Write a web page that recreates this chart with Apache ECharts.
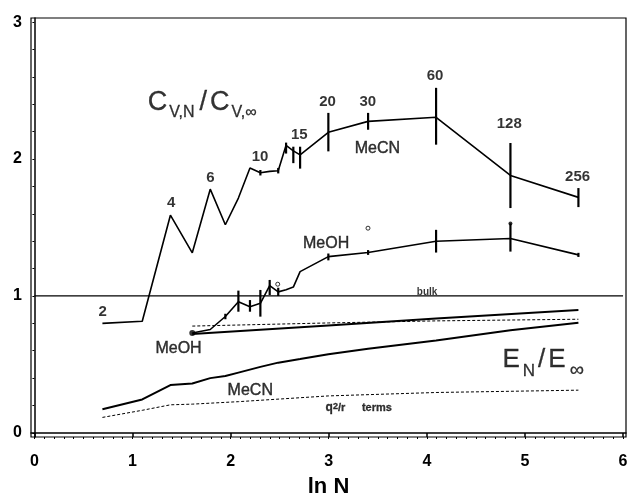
<!DOCTYPE html>
<html>
<head>
<meta charset="utf-8">
<script src="https://cdn.jsdelivr.net/npm/echarts@6/dist/echarts.min.js"></script>
<style>html,body{margin:0;background:#fff}#chart{width:631px;height:499px}</style>
</head>
<body>
<div id="chart"></div>
<script>
// ln N values of the cluster sizes
var lnN_MeCN = [0.693, 1.099, 1.386, 1.609, 1.792, 1.946, 2.079, 2.197, 2.303, 2.398, 2.485, 2.565, 2.639, 2.708, 2.996, 3.401, 4.094, 4.852, 5.545]
var cv_MeCN  = [0.80, 0.815, 1.59, 1.315, 1.78, 1.52, 1.715, 1.935, 1.90, 1.91, 1.915, 2.10, 2.06, 2.03, 2.195, 2.275, 2.305, 1.88, 1.72]
var lnN_MeOH = [1.609, 1.792, 1.946, 2.079, 2.197, 2.303, 2.398, 2.485, 2.565, 2.639, 2.708, 2.996, 3.401, 4.094, 4.852, 5.545]
var cv_MeOH  = [0.73, 0.755, 0.85, 0.958, 0.922, 0.946, 1.075, 1.03, 1.045, 1.065, 1.178, 1.287, 1.317, 1.40, 1.42, 1.30]

// error bars [lnN, low, high]
var err_MeCN = [[2.303, 1.88, 1.92], [2.485, 1.895, 1.935], [2.565, 2.04, 2.12], [2.639, 1.97, 2.09], [2.708, 1.93, 2.09],
    [2.996, 2.056, 2.337], [3.401, 2.214, 2.337], [4.094, 2.105, 2.52], [4.852, 1.642, 2.117], [5.545, 1.649, 1.788]]
var err_MeOH = [[1.946, 0.83, 0.87], [2.079, 0.885, 1.039], [2.197, 0.885, 0.97], [2.303, 0.849, 1.044], [2.398, 1.007, 1.117],
    [2.485, 1.0, 1.06], [2.996, 1.26, 1.31], [3.401, 1.30, 1.335], [4.094, 1.317, 1.483], [4.852, 1.324, 1.53], [5.545, 1.285, 1.315]]

// E_N / E_inf curves
var eMeOH      = [[1.609, 0.722], [2.996, 0.785], [4.094, 0.835], [5.545, 0.898]]
var eMeOH_q2r  = [[1.609, 0.78], [2.996, 0.803], [4.094, 0.818], [5.545, 0.83]]
var eMeCN      = [[0.693, 0.173], [1.099, 0.244], [1.386, 0.349], [1.609, 0.361], [1.792, 0.40], [1.946, 0.415], [2.079, 0.44],
    [2.303, 0.482], [2.485, 0.513], [2.708, 0.539], [2.996, 0.575], [3.401, 0.615], [4.094, 0.675], [4.852, 0.75], [5.545, 0.805]]
var eMeCN_q2r  = [[0.693, 0.113], [1.099, 0.165], [1.386, 0.205], [1.609, 0.21], [2.079, 0.228], [2.996, 0.27], [4.094, 0.295], [5.545, 0.312]]
var bulk = [[0, 1], [6, 1]]

var filledDots = [[1.609, 0.73, 6], [4.852, 1.53, 4]]
var openDots = [[2.48, 1.086], [3.40, 1.495]]

// annotations [x, y, text]
var sizeLabels = [[0.695, 0.881, '2'], [1.395, 1.678, '4'], [1.795, 1.861, '6'], [2.30, 2.015, '10'], [2.70, 2.178, '15'],
    [2.987, 2.421, '20'], [3.398, 2.421, '30'], [4.083, 2.604, '60'], [4.84, 2.258, '128'], [5.537, 1.873, '256']]
var solventLabels = [[3.496, 2.073, 'MeCN'], [2.973, 1.38, 'MeOH'], [1.469, 0.617, 'MeOH'], [2.2, 0.312, 'MeCN']]

var xTicks = [0, 1, 2, 3, 4, 5, 6]
var yTicks = [0, 1, 2, 3]
var xMinor = [], yMinor = []
for (var i = 0; i <= 60; i++) xMinor.push(i / 10)
for (var j = 0; j <= 15; j++) yMinor.push(j / 5)

var FONT = '"Liberation Sans", Arial, sans-serif'

function lineSeries(data, width, dashed) {
    return {
        type: 'line', data: data, symbol: 'none', silent: true, animation: false,
        lineStyle: { color: '#000', width: width, type: dashed ? [3, 2] : 'solid' }
    }
}
function errSeries(data) {
    return {
        type: 'custom', data: data, animation: false, silent: true,
        renderItem: function (params, api) {
            var a = api.coord([api.value(0), api.value(1)])
            var b = api.coord([api.value(0), api.value(2)])
            return { type: 'line', shape: { x1: a[0], y1: a[1], x2: b[0], y2: b[1] }, style: { stroke: '#000', lineWidth: 2.2 } }
        }
    }
}
function textSeries(data, style) {
    return {
        type: 'scatter', symbolSize: 1, itemStyle: { color: 'rgba(0,0,0,0)' }, animation: false, silent: true,
        data: data.map(function (d) { return [d[0], d[1], d[2]] }),
        label: Object.assign({ show: true, position: 'inside', color: '#000', fontFamily: FONT,
            formatter: function (p) { return p.data[2] } }, style)
    }
}
function rs(size, extra) {
    return Object.assign({ fontSize: size, color: '#000', fontFamily: FONT, textBorderColor: '#000', textBorderWidth: 0.3 }, extra || {})
}

var myEcharts = echarts.init(document.getElementById('chart'))
var option = {
    backgroundColor: '#fff',
    animation: false,
    grid: { left: 31, right: 5, top: 18, bottom: 62, show: true, borderColor: '#000', borderWidth: 1.2,
        containLabel: false, outerBoundsMode: 'none' },
    xAxis: [{
        type: 'value', min: -0.035, max: 6.03,
        name: 'ln N', nameLocation: 'middle', nameGap: 39,
        nameTextStyle: { fontSize: 22, fontWeight: 'bold', color: '#000', fontFamily: FONT },
        axisLine: { lineStyle: { color: '#000', width: 1.5 } },
        axisTick: { customValues: xTicks, length: 4, lineStyle: { color: '#000', width: 1.5 } },
        axisLabel: { customValues: xTicks, margin: 17, fontSize: 16, fontWeight: 'bold', color: '#000', fontFamily: FONT },
        splitLine: { show: false }
    }, {
        type: 'value', min: -0.035, max: 6.03, position: 'bottom',
        axisLine: { show: false },
        axisTick: { customValues: xMinor, length: 2, lineStyle: { color: '#000', width: 1 } },
        axisLabel: { show: false }, splitLine: { show: false }
    }],
    yAxis: [{
        type: 'value', min: -0.03, max: 3.03,
        axisLine: { lineStyle: { color: '#000', width: 1.5 } },
        axisTick: { customValues: yMinor, length: 2, lineStyle: { color: '#000', width: 1 } },
        axisLabel: { customValues: yTicks, margin: 9, padding: [3, 0, 0, 0], fontSize: 16, fontWeight: 'bold', color: '#000', fontFamily: FONT },
        splitLine: { show: false }
    }],
    series: [
        lineSeries(bulk, 1.2, false),
        lineSeries(lnN_MeCN.map(function (x, i) { return [x, cv_MeCN[i]] }), 1.6, false),
        lineSeries(lnN_MeOH.map(function (x, i) { return [x, cv_MeOH[i]] }), 1.6, false),
        lineSeries(eMeOH, 2, false),
        lineSeries(eMeOH_q2r, 1, true),
        lineSeries(eMeCN, 2, false),
        lineSeries(eMeCN_q2r, 1, true),
        errSeries(err_MeCN),
        errSeries(err_MeOH),
        {
            type: 'scatter', animation: false, silent: true, data: filledDots,
            symbolSize: function (d) { return d[2] }, itemStyle: { color: '#000' }
        },
        {
            type: 'scatter', animation: false, silent: true, data: openDots, symbolSize: 4,
            itemStyle: { color: '#fff', borderColor: '#000', borderWidth: 1 }
        },
        textSeries(sizeLabels, { fontSize: 15, fontWeight: 'bold' }),
        textSeries(solventLabels, { fontSize: 16, textBorderColor: '#000', textBorderWidth: 0.4 }),
        textSeries([[4.002, 1.029, 'bulk']], { fontSize: 10, fontWeight: 'bold' }),
        textSeries([[2.963, 0.181, '{q|q}{s|2}{t|/r}     {t|terms}']], {
            position: 'right', distance: 0,
            rich: {
                q: rs(12, { fontWeight: 'bold' }),
                s: rs(9, { fontWeight: 'bold', verticalAlign: 'top', lineHeight: 10 }),
                t: rs(11, { fontWeight: 'bold' })
            }
        }),
        textSeries([[1.151, 2.41, '{b|C}{s|V,N}{sl|/}{b|C}{s|V,∞}']], {
            position: 'right', distance: 0,
            rich: {
                b: rs(27, { lineHeight: 36 }),
                sl: rs(27, { lineHeight: 36, padding: [0, 3, 0, 3] }),
                s: rs(16, { lineHeight: 10, verticalAlign: 'bottom', padding: [0, 2, 0, 2] })
            }
        }),
        textSeries([[4.766, 0.535, '{b|E}{s|N}{sl|/}{b|E}{i|∞}']], {
            position: 'right', distance: 0,
            rich: {
                b: rs(26, { lineHeight: 41 }),
                sl: rs(26, { lineHeight: 41, padding: [0, 3, 0, 3] }),
                s: rs(17, { lineHeight: 12, verticalAlign: 'bottom', padding: [0, 0, 0, 3] }),
                i: rs(20, { lineHeight: 12, verticalAlign: 'bottom', padding: [0, 0, 0, 4] })
            }
        })
    ]
}
myEcharts.setOption(option)
</script>
</body>
</html>
